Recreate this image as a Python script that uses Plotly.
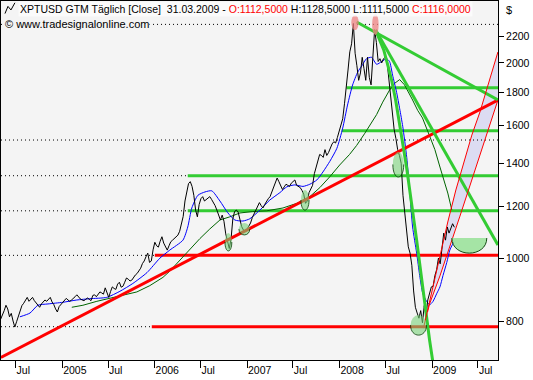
import math
import pandas as pd
import plotly.graph_objects as go

# ---------------- data ----------------
price_start = "2004-05-03"          # weekly closes from this Monday on
price_close = [
    805, 815, 830, 846, 835, 812, 822, 800, 783, 798,
    815, 832, 845, 852, 862, 870, 858, 864, 870, 860,
    852, 848, 840, 850, 856, 862, 858, 866, 870, 856,
    848, 835, 826, 842, 848, 855, 860, 867, 862, 858,
    862, 866, 872, 878, 870, 865, 862, 860, 864, 868,
    864, 860, 876, 878, 872, 880, 887, 884, 880, 900,
    885, 870, 888, 903, 898, 895, 912, 918, 902, 905,
    918, 932, 928, 922, 925, 935, 942, 947, 955, 965,
    981, 990, 1005, 1018, 985, 990, 1030, 1058, 1045, 1040,
    1062, 1079, 1055, 1040, 1029, 1045, 1060, 1066, 1072, 1079,
    1085, 1100, 1125, 1160, 1225, 1270, 1303, 1312, 1290, 1250,
    1186, 1158, 1210, 1235, 1244, 1225, 1232, 1240, 1244, 1232,
    1220, 1205, 1186, 1160, 1145, 1165, 1140, 1090, 1060, 1035,
    1070, 1150, 1180, 1186, 1178, 1150, 1118, 1105, 1098, 1108,
    1120, 1133, 1155, 1170, 1190, 1205, 1218, 1205, 1195, 1210,
    1225, 1235, 1244, 1265, 1290, 1310, 1329, 1312, 1295, 1276,
    1288, 1300, 1295, 1290, 1305, 1315, 1320, 1295, 1290, 1285,
    1272, 1255, 1215, 1225, 1262, 1280, 1295, 1350, 1385, 1417,
    1445, 1440, 1430, 1470, 1440, 1455, 1477, 1500, 1512, 1505,
    1535, 1570, 1595, 1640, 1730, 1820, 1950, 2080, 2140, 2300,
    2070, 1980, 1880, 1930, 2040, 1960, 1880, 2040, 1900, 1850,
    2080, 2250, 2150, 2010, 2030, 2000, 2030, 2040, 2010, 1900,
    1800, 1690, 1580, 1530, 1470, 1440, 1400, 1250, 1170, 1090,
    1041, 1018, 975, 890, 840, 823, 808, 830, 795, 845,
    815, 862, 885, 903, 905, 940, 960, 1000, 980, 1041,
    1093, 1066, 1117, 1093, 1110, 1130, 1116,
]

blue_ma_dates = [
    "2004-07-18", "2004-08-27", "2004-09-27", "2004-11-06", "2005-01-04",
    "2005-02-28", "2005-04-20", "2005-06-26", "2005-08-17", "2005-10-07",
    "2005-12-02", "2006-01-22", "2006-03-02", "2006-04-23", "2006-05-12",
    "2006-05-28", "2006-06-21", "2006-07-19", "2006-08-15", "2006-09-16",
    "2006-10-17", "2006-11-14", "2006-12-16", "2007-01-12", "2007-02-21",
    "2007-04-01", "2007-05-11", "2007-06-07", "2007-07-09", "2007-08-10",
    "2007-09-06", "2007-10-04", "2007-10-28", "2007-11-24", "2007-12-22",
    "2008-01-14", "2008-02-02", "2008-02-22", "2008-03-13", "2008-03-29",
    "2008-04-17", "2008-05-07", "2008-05-27", "2008-06-16", "2008-07-05",
    "2008-07-17", "2008-07-29", "2008-08-14", "2008-08-26", "2008-09-07",
    "2008-09-23", "2008-10-05", "2008-10-16", "2008-11-01", "2008-11-13",
    "2008-11-25", "2008-12-11", "2008-12-23", "2009-01-04", "2009-01-20",
    "2009-02-01", "2009-02-13", "2009-02-28", "2009-03-12", "2009-03-28",
]
blue_ma_values = [
    812, 823, 846, 850, 855,
    862, 866, 870, 889, 914,
    950, 1000, 1029, 1066, 1117,
    1195, 1250, 1265, 1270, 1225,
    1175, 1145, 1141, 1150, 1186,
    1229, 1262, 1288, 1297, 1290,
    1300, 1320, 1358, 1410, 1477,
    1587, 1722, 1849, 1935, 1978,
    2030, 2040, 1990, 2010, 2030,
    2010, 1915, 1800, 1700, 1597,
    1429, 1262, 1117, 1018, 940,
    883, 857, 848, 857, 883,
    903, 940, 985, 1029, 1060,
]

green_ma_dates = [
    "2005-02-08", "2005-03-24", "2005-05-18", "2005-07-08", "2005-08-29",
    "2005-10-23", "2005-12-13", "2006-02-03", "2006-03-02", "2006-04-11",
    "2006-05-20", "2006-06-29", "2006-08-07", "2006-09-16", "2006-10-25",
    "2006-12-04", "2007-01-24", "2007-03-20", "2007-05-23", "2007-07-17",
    "2007-09-06", "2007-10-16", "2007-11-24", "2008-01-02", "2008-02-10",
    "2008-03-09", "2008-04-09", "2008-04-29", "2008-05-27", "2008-06-20",
    "2008-07-17", "2008-08-06", "2008-08-26", "2008-09-14", "2008-10-05",
    "2008-10-16", "2008-11-05", "2008-11-24", "2008-12-23", "2009-01-12",
    "2009-02-01", "2009-02-20", "2009-03-04", "2009-03-20",
]
green_ma_values = [
    840, 846, 858, 867, 878,
    887, 907, 934, 955, 993,
    1029, 1072, 1109, 1145, 1158,
    1174, 1180, 1183, 1195, 1215,
    1244, 1285, 1335, 1392, 1445,
    1492, 1555, 1600, 1665, 1740,
    1816, 1860, 1885, 1850, 1790,
    1753, 1690, 1645, 1540, 1470,
    1382, 1310, 1260, 1186,
]

# long red support line
trend_dates = ["2004-05-04", "2009-09-18"]
trend_values = [703, 1753]

# horizontal levels
red_levels = [1010, 784]
red_level_start = ["2006-01-02", "2005-12-21"]
green_levels = [1831, 1572, 1340, 1183]
green_level_start = ["2008-01-29", "2008-01-10", "2006-05-12", "2006-05-12"]
dotted_full_levels = [2293, 1521]
dotted_lead_levels = [1340, 1183, 1010, 784]
dotted_lead_end = ["2006-05-12", "2006-05-12", "2006-01-02", "2005-12-21"]

# green down-trend lines from the 2008 tops
g1_dates = ["2008-03-09", "2009-09-18"]
g1_values = [2312, 1753]
g2_dates = ["2008-05-23", "2009-09-18"]
g2_values = [2247, 1048]
g3_dates = ["2008-05-23", "2008-06-08", "2008-06-24", "2008-07-09", "2008-07-25",
            "2008-08-10", "2008-08-26", "2008-09-22", "2008-11-01", "2008-11-24",
            "2008-12-22", "2009-01-04"]
g3_values = [2247, 2169, 2094, 1992, 1882, 1753, 1610, 1382, 1066, 903, 748, 692]

# rising channel since the low
chan_a_dates = ["2008-11-28", "2008-12-30", "2009-02-01", "2009-03-04", "2009-04-05",
                "2009-05-07", "2009-06-07", "2009-07-09", "2009-08-17", "2009-09-18"]
chan_a_values = [780, 887, 1008, 1137, 1274, 1408, 1548, 1680, 1882, 2079]
chan_b_dates = ["2008-12-14", "2008-12-22", "2009-02-01", "2009-03-12", "2009-04-21",
                "2009-05-30", "2009-07-09", "2009-08-17", "2009-09-18"]
chan_b_values = [826, 850, 939, 1040, 1161, 1292, 1442, 1598, 1753]

# highlight ovals
pink_x0 = ["2008-02-17", "2008-05-09"]
pink_x1 = ["2008-03-17", "2008-06-04"]
pink_lo = [2247, 2208]
pink_hi = [2370, 2379]
oval_x0 = ["2006-10-06", "2006-11-30", "2007-08-02", "2008-07-30", "2008-10-08"]
oval_x1 = ["2006-11-02", "2007-01-12", "2007-09-03", "2008-09-11", "2008-12-10"]
oval_lo = [1026, 1086, 1186, 1334, 761]
oval_hi = [1093, 1133, 1274, 1458, 817]
bowl_x = ["2009-03-20", "2009-08-05"]
bowl_top = 1074
bowl_bottom = 1018

x_tick_dates = ["2004-07-01", "2005-01-01", "2005-07-01", "2006-01-01", "2006-07-01",
                "2007-01-01", "2007-07-01", "2008-01-01", "2008-07-01", "2009-01-01",
                "2009-07-01"]
x_tick_text = ["Jul", "2005", "Jul", "2006", "Jul", "2007", "Jul", "2008", "Jul", "2009", "Jul"]
y_tick_values = [800, 1000, 1200, 1400, 1600, 1800, 2000, 2200]

x_range = ["2004-05-04 10:00", "2009-09-18 07:00"]
y_range = [696.6, 2491.5]

# ---------------- figure ----------------
price_dates = pd.date_range(price_start, periods=len(price_close), freq="7D")

BRIGHT_GREEN = "#33CC33"
RED = "#FF0000"
FONT = "Tahoma, 'Liberation Sans', Arial, sans-serif"

fig = go.Figure()

# channel fill
fig.add_trace(go.Scatter(
    x=chan_a_dates + chan_b_dates[::-1],
    y=chan_a_values + chan_b_values[::-1],
    fill="toself", fillcolor="#DCDCF2", line=dict(width=0),
    mode="lines", hoverinfo="skip"))

# dotted levels
for lv in dotted_full_levels:
    fig.add_trace(go.Scatter(x=[x_range[0], x_range[1]], y=[lv, lv], mode="lines",
                             line=dict(color="#000000", width=1, dash="1px,3px")))
for lv, end in zip(dotted_lead_levels, dotted_lead_end):
    fig.add_trace(go.Scatter(x=[x_range[0], end], y=[lv, lv], mode="lines",
                             line=dict(color="#000000", width=1, dash="1px,3px")))

# solid horizontal levels
for lv, st in zip(red_levels, red_level_start):
    fig.add_trace(go.Scatter(x=[st, x_range[1]], y=[lv, lv], mode="lines",
                             line=dict(color=RED, width=3)))
for lv, st in zip(green_levels, green_level_start):
    fig.add_trace(go.Scatter(x=[st, x_range[1]], y=[lv, lv], mode="lines",
                             line=dict(color=BRIGHT_GREEN, width=3)))

# moving averages and price
fig.add_trace(go.Scatter(x=green_ma_dates, y=green_ma_values, mode="lines",
                         line=dict(color="#006400", width=1)))
fig.add_trace(go.Scatter(x=blue_ma_dates, y=blue_ma_values, mode="lines",
                         line=dict(color="#0000FF", width=1, shape="spline", smoothing=0.6)))
fig.add_trace(go.Scatter(x=price_dates, y=price_close, mode="lines",
                         line=dict(color="#000000", width=1)))

# trend lines
fig.add_trace(go.Scatter(x=trend_dates, y=trend_values, mode="lines",
                         line=dict(color=RED, width=3)))
for dx, dy in ((g1_dates, g1_values), (g2_dates, g2_values), (g3_dates, g3_values)):
    fig.add_trace(go.Scatter(x=dx, y=dy, mode="lines",
                             line=dict(color=BRIGHT_GREEN, width=3)))
fig.add_trace(go.Scatter(x=chan_a_dates, y=chan_a_values, mode="lines",
                         line=dict(color=RED, width=1)))
fig.add_trace(go.Scatter(x=chan_b_dates, y=chan_b_values, mode="lines",
                         line=dict(color=RED, width=1)))

# ---- ovals as shapes ----
shapes = []
for x0, x1, lo, hi in zip(pink_x0, pink_x1, pink_lo, pink_hi):
    shapes.append(dict(type="circle", xref="x", yref="y", x0=x0, x1=x1, y0=lo, y1=hi,
                       fillcolor="rgba(238,130,130,0.75)", line=dict(width=0), layer="above"))


def lower_arc(x0, x1, lo, hi):
    mid = 10 ** ((math.log10(lo) + math.log10(hi)) / 2)
    ctrl = 10 ** (math.log10(mid) + 4.0 / 3.0 * (math.log10(lo) - math.log10(mid)))
    return f"M {x0},{mid} C {x0},{ctrl} {x1},{ctrl} {x1},{mid}"


for x0, x1, lo, hi in zip(oval_x0, oval_x1, oval_lo, oval_hi):
    shapes.append(dict(type="circle", xref="x", yref="y", x0=x0, x1=x1, y0=lo, y1=hi,
                       fillcolor="rgba(120,210,120,0.6)", line=dict(width=0), layer="above"))
    shapes.append(dict(type="path", xref="x", yref="y", path=lower_arc(x0, x1, lo, hi),
                       line=dict(color="rgba(0,60,0,0.8)", width=1), layer="above"))

bowl_ctrl = 10 ** (math.log10(bowl_top) + (math.log10(bowl_bottom) - math.log10(bowl_top)) / 0.75)
bowl_path = (f"M {bowl_x[0]},{bowl_top} C {bowl_x[0]},{bowl_ctrl} "
             f"{bowl_x[1]},{bowl_ctrl} {bowl_x[1]},{bowl_top} Z")
shapes.append(dict(type="path", xref="x", yref="y", path=bowl_path,
                   fillcolor="rgba(150,225,150,0.85)", line=dict(width=0), layer="above"))
shapes.append(dict(type="path", xref="x", yref="y",
                   path=f"M {bowl_x[0]},{bowl_top} C {bowl_x[0]},{bowl_ctrl} "
                        f"{bowl_x[1]},{bowl_ctrl} {bowl_x[1]},{bowl_top}",
                   line=dict(color="rgba(0,60,0,0.9)", width=1), layer="above"))

# small chart icon in the title box
shapes.append(dict(type="path", xref="paper", yref="paper",
                   path="M 0.008,0.965 L 0.014,0.985 L 0.020,0.975 L 0.028,0.995",
                   line=dict(color="#000000", width=1)))

fig.update_layout(
    width=533, height=380,
    margin=dict(l=1, r=35, t=1, b=20),
    paper_bgcolor="#FFFFFF", plot_bgcolor="#F4F4F4",
    showlegend=False,
    font=dict(family=FONT, size=11, color="#000000"),
    shapes=shapes,
    xaxis=dict(type="date", range=x_range, tickmode="array", tickvals=x_tick_dates,
               ticktext=x_tick_text, ticks="outside", ticklen=7, tickcolor="#000000",
               ticklabelposition="outside right",
               showgrid=False, zeroline=False, showline=True, linecolor="#000000",
               linewidth=1, mirror=True, tickfont=dict(size=10.5)),
    yaxis=dict(type="log", range=[math.log10(y_range[0]), math.log10(y_range[1])],
               side="right", tickmode="array", tickvals=y_tick_values,
               ticktext=[str(v) for v in y_tick_values],
               ticks="outside", ticklen=5, tickcolor="#000000",
               showgrid=False, zeroline=False, showline=True, linecolor="#000000",
               linewidth=1, mirror=True, tickfont=dict(size=10.5)),
    annotations=[
        dict(xref="paper", yref="paper", x=0.034, y=0.978, xanchor="left", yanchor="middle",
             showarrow=False, bgcolor="rgba(252,252,252,0.85)", borderpad=1,
             text=("XPTUSD GTM Täglich [Close]  31.03.2009 - "
                   "<span style='color:#FF0000'>O:1112,5000</span> H:1128,5000 "
                   "L:1111,5000 <span style='color:#FF0000'>C:1116,0000</span>"),
             font=dict(size=10.5)),
        dict(xref="paper", yref="paper", x=0.006, y=0.936, xanchor="left", yanchor="middle",
             showarrow=False, bgcolor="#F4F4F4", borderpad=0,
             text="© www.tradesignalonline.com", font=dict(size=11)),
        dict(xref="paper", yref="paper", x=1.013, y=0.975, xanchor="left", yanchor="middle",
             showarrow=False, text="$", font=dict(size=11)),
    ],
)

fig.write_html("out.html", config={"displayModeBar": False},
               post_script="document.body.style.margin='0px';document.body.style.padding='0px';")
